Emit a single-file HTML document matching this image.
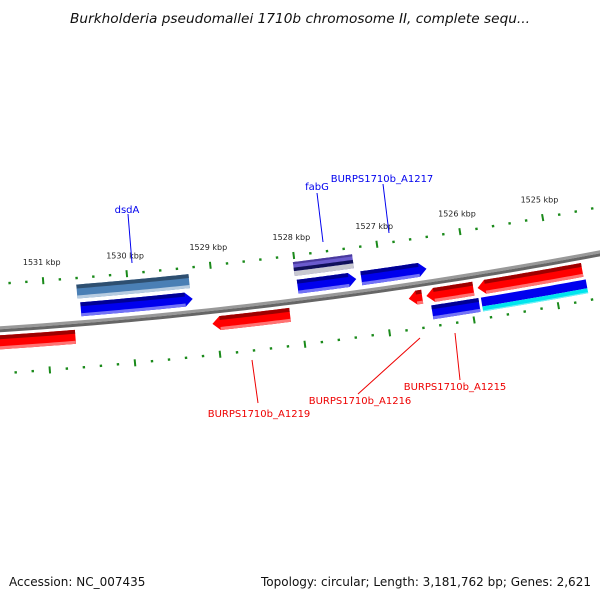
<!DOCTYPE html>
<html><head><meta charset="utf-8"><style>
html,body{margin:0;padding:0;background:#fff;}
svg{display:block;font-family:"DejaVu Sans","Liberation Sans",sans-serif;}
</style></head><body>
<svg id="map" width="600" height="600" viewBox="0 0 600 600" xmlns="http://www.w3.org/2000/svg">
<rect width="600" height="600" fill="#fff"/>
<text x="300" y="23" text-anchor="middle" font-size="13" font-style="italic" fill="#111" textLength="460" lengthAdjust="spacingAndGlyphs">Burkholderia pseudomallei 1710b chromosome II, complete sequ...</text>
<text x="9" y="586" font-size="12" fill="#111">Accession: NC_007435</text>
<text x="591" y="586" font-size="12" fill="#111" text-anchor="end" textLength="330" lengthAdjust="spacingAndGlyphs">Topology: circular; Length: 3,181,762 bp; Genes: 2,621</text>
<g id="layer"></g>
</svg>
<script>
// ---- data ----
var majorTicks = [1525,1526,1527,1528,1529,1530,1531,1532];
var tickLabels = ["1525 kbp","1526 kbp","1527 kbp","1528 kbp","1529 kbp","1530 kbp","1531 kbp",""];
var geneNames = ["dsdA","fabG","g-f1a","g-f1b","g-f1c","g-r1a","BURPS1710b_A1219","g-r1c","BURPS1710b_A1216","BURPS1710b_A1215","g-r2a","g-r2b","g-r2c"];
var geneStart = [1530.61,1528.02,1530.58,1528.00,1527.24,1532.20,1529.05,1526.72,1526.51,1525.90,1526.47,1525.88,1525.88];
var geneEnd   = [1529.27,1527.31,1529.25,1527.30,1526.46,1530.67,1528.13,1526.56,1525.95,1524.65,1525.91,1524.63,1524.63];
var geneRow   = ["F2","F2","F1","F1","F1","R1","R1","R1","R1","R1","R2","R2a","R2b"];
var geneColor = ["#4a7fb5","#6a5acd","#0000ee","#0000ee","#0000ee","#ff0000","#ff0000","#ff0000","#ff0000","#ff0000","#0000ee","#0000ee","#00e5ee"];
var geneHead  = ["none","none","right","right","right","none","left","left","left","left","none","none","none"];
var labelNames = ["dsdA","fabG","BURPS1710b_A1217","BURPS1710b_A1219","BURPS1710b_A1216","BURPS1710b_A1215"];
var labelColor = ["#0000ee","#0000ee","#0000ee","#ee0000","#ee0000","#ee0000"];
// ---- geometry ----
var cx=-327, cy=-4660, R0=5000, phi1528=0.12561, kRad=0.016946;
function ang(kbp){return phi1528-(kbp-1528)*kRad;}
function P(kbp,off){var a=ang(kbp),r=R0+off;return [cx+r*Math.sin(a),cy+r*Math.cos(a)];}
var rows={F2:[-39,-25],F1:[-21,-7],R1:[6,20],R2:[23,37],R2a:[23,32],R2b:[32,37]};
var layer=document.getElementById('layer');
var NS="http://www.w3.org/2000/svg";
function mk(tag,attrs){var e=document.createElementNS(NS,tag);for(var k in attrs)e.setAttribute(k,attrs[k]);layer.appendChild(e);return e;}
function band(a,b,o1,o2,head){
  var h=0.09,pts=[],n=24,i,t;
  var s0=a,s1=b;
  if(head==='right'){s1=b+h;} if(head==='left'){s0=a-h;}
  for(i=0;i<=n;i++){t=s0+(s1-s0)*i/n;pts.push(P(t,o1));}
  if(head==='right')pts.push(P(b,(o1+o2)/2));
  for(i=n;i>=0;i--){t=s0+(s1-s0)*i/n;pts.push(P(t,o2));}
  if(head==='left')pts.push(P(a,(o1+o2)/2));
  return "M"+pts.map(function(p){return p[0].toFixed(2)+","+p[1].toFixed(2);}).join("L")+"Z";
}
function arcPath(a,b,off){var s="",i,n=60;for(i=0;i<=n;i++){var p=P(a+(b-a)*i/n,off);s+=(i?"L":"M")+p[0].toFixed(2)+","+p[1].toFixed(2);}return s;}
function shade(c,f){
  var r=parseInt(c.substr(1,2),16),g=parseInt(c.substr(3,2),16),b=parseInt(c.substr(5,2),16);
  function m(v){return f<1?Math.round(v*f):Math.round(v+(255-v)*(f-1));}
  return "rgb("+m(r)+","+m(g)+","+m(b)+")";
}
// backbone
var bb1=mk('path',{d:arcPath(1533,1524,-1.5),stroke:"#999",'stroke-width':3,fill:"none"});


var bb2=mk('path',{d:arcPath(1533,1524,1.5),stroke:"#666",'stroke-width':3,fill:"none"});


// ticks
var start=1524.0,end=1532.6,step=0.2,v;
for(v=start;v<=end+1e-6;v+=step){
  var kb=Math.round(v*10)/10;
  var isMaj=Math.abs(kb-Math.round(kb))<1e-6;
  var L=isMaj?3.5:1.2;
  [[-45.5,'upper'],[44,'lower']].forEach(function(rg){
    var p1=P(kb,rg[0]-L),p2=P(kb,rg[0]+L);
    var tk=mk('line',{x1:p1[0],y1:p1[1],x2:p2[0],y2:p2[1],stroke:"#1a8a1a",'stroke-width':isMaj?2:2.4});
    
    
  });
}
majorTicks.forEach(function(m,i){
  if(!tickLabels[i])return;
  var p=P(m,-64);
  var t=mk('text',{x:p[0],y:p[1]+3,'font-size':8,fill:"#222",'text-anchor':'middle'});
  t.textContent=tickLabels[i];
  
  
});
// genes
geneNames.forEach(function(nm,i){
  var o=rows[geneRow[i]],c=geneColor[i];
  var g=mk('path',{d:band(geneStart[i],geneEnd[i],o[0],o[1],geneHead[i]),fill:c});
  
  
  var h=0.09,a=geneStart[i],b=geneEnd[i];
  if(geneHead[i]==='right')b=b+h; if(geneHead[i]==='left')a=a-h;
  var th=(o[1]-o[0]);
  if(nm==='fabG'){
    var n1=mk('path',{d:band(a,b,o[0]+th*0.4,o[0]+th*0.65,'none'),fill:"#10105a"});
    
    
    var n2=mk('path',{d:band(a,b,o[0]+th*0.65,o[1],'none'),fill:"#c8c8d0"});
    
    
    var n3=mk('path',{d:band(a,b,o[0],o[0]+th*0.15,'none'),fill:"#4a3a9d"});
    
    
    return;
  }
  if(geneRow[i]!=='R2a'&&geneRow[i]!=='R2b'){
    var d1=mk('path',{d:band(a,b,o[0],o[0]+th*0.28,'none'),fill:shade(c,0.62)});
    
    
  }
  if(geneRow[i]!=='R2a'){
    var d2=mk('path',{d:band(a,b,o[1]-th*0.22,o[1],'none'),fill:shade(c,geneRow[i]==='F2'?1.6:1.45)});
    
    
  }
});
// gene labels
var labelPos=[[127,213],[317,190],[382,182],[259,417],[360,404],[455,390]];
var lineEnd=[[132,263],[323,242],[389,233],[252,360],[420,338],[455,333]];
var lineStart=[[128,214],[317,193],[383,184],[258,403],[358,394],[460,380]];
labelNames.forEach(function(nm,i){
  var ln=mk('line',{x1:lineStart[i][0],y1:lineStart[i][1],x2:lineEnd[i][0],y2:lineEnd[i][1],stroke:labelColor[i],'stroke-width':1});
  
  
  var t=mk('text',{x:labelPos[i][0],y:labelPos[i][1],'font-size':10,fill:labelColor[i],'text-anchor':'middle'});
  t.textContent=nm;
  
  
});
</script>
</body></html>
